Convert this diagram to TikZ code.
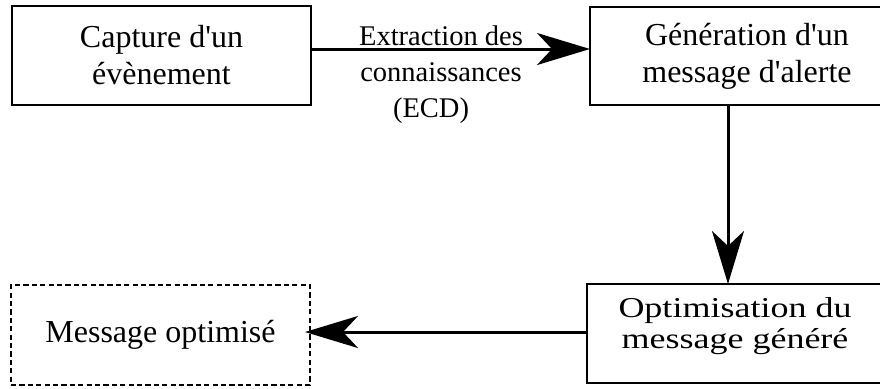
\documentclass[tikz,border=0pt]{standalone}
\usepackage{fontspec}
\setmainfont{Liberation Serif}
\usetikzlibrary{arrows.meta}
\newcommand\apos{\textquotesingle}
\begin{document}
\begin{tikzpicture}[x=0.5pt,y=-0.5pt,
  box/.style={draw, line width=0.9pt, inner sep=0pt, outer sep=0pt,
    align=center, font=\fontsize{16}{18.5}\selectfont},
  dashbox/.style={box, dash pattern=on 2.6pt off 1.6pt},
  wide/.style={inner sep=0pt, font=\fontsize{16}{16.7}\selectfont},
  arr/.style={line width=1.5pt, -{Stealth[length=26.5pt,width=16pt,inset=7.5pt]}},
  lbl/.style={align=center, font=\fontsize{14.25}{18}\selectfont, inner sep=0pt}]
\useasboundingbox (0,0) rectangle (880,388);
\clip (0,0) rectangle (880,388);

% process boxes
\node[box, minimum width=149.5pt, minimum height=49.5pt] (b1) at (161.5,55.5)
  {Capture d\apos un\\évènement};
\node[box, minimum width=157pt, minimum height=49pt] (b2) at (747,56)
  {Génération d\apos un\\message d\apos alerte};
\node[box, minimum width=148pt, minimum height=49.5pt] (b3) at (735,333.5) {};
\node[wide] (b3t) at (735,327)
  {\scalebox{1.125}[0.9]{\begin{tabular}{@{}c@{}}Optimisation du\\message généré\end{tabular}}};
\node[dashbox, minimum width=149.5pt, minimum height=50pt] (b4) at (160.5,335)
  {Message optimisé};

% connectors
\draw[arr] ([yshift=3.25pt]b1.east) -- ([yshift=3.25pt]b1.east -| b2.west);
\node[lbl] (ecd) at (441,75) {Extraction des\\connaissances\\(ECD)\hspace*{10pt}};
\draw[arr] ([xshift=-9.5pt]b2.south) -- ([xshift=-9.5pt]b2.south |- b3.north);
\draw[arr, shorten >=-2.5pt] ([yshift=0.75pt]b3.west) -- ([yshift=0.75pt]b3.west -| b4.east);
\end{tikzpicture}
\end{document}
